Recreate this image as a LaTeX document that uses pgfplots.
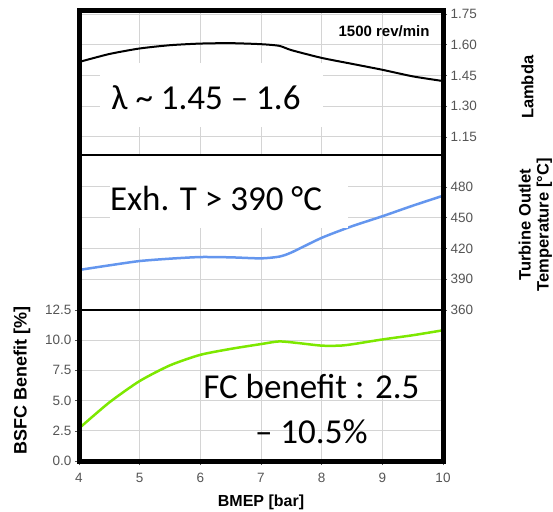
\documentclass[border=0pt]{standalone}
\usepackage{fontspec}
\setmainfont{Liberation Sans}
\newfontfamily\calibri{Carlito}
\usepackage{pgfplots}
\pgfplotsset{compat=1.18}
\definecolor{tickgray}{RGB}{85,85,85}
\definecolor{gridgray}{RGB}{212,212,212}
\definecolor{tblue}{RGB}{100,150,238}
\definecolor{lgreen}{RGB}{125,232,0}
\begin{document}
\begin{tikzpicture}
\pgfplotsset{
  panel/.style={
    scale only axis, width=364pt, xmin=4, xmax=10, xtick={4,...,10},
    axis line style={line width=1.5pt},
    grid=major,
    grid style={draw=gridgray, line width=1pt},
    tick label style={font=\fontsize{13.5}{14}\selectfont, text=tickgray},
    /pgf/number format/assume math mode=true,
    tick align=outside, tick style={color=tickgray, line width=0.6pt},
    major tick length=4pt, minor tick length=2.5pt,
    label style={font=\bfseries\fontsize{16.5}{18}\selectfont},
    clip=false,
  },
}
% bottom panel
\begin{axis}[panel, at={(79pt,50pt)}, anchor=south west, height=151pt,
  ymin=0, ymax=12.5, ytick={0,2.5,5,7.5,10,12.5},
  ytick pos=left, xtick pos=bottom, minor x tick num=1,
  yticklabel style={/pgf/number format/.cd, fixed, fixed zerofill, precision=1},
  xticklabel style={yshift=-5pt},
  xlabel={BMEP [bar]}, ylabel={BSFC Benefit [\%]},
  xlabel style={at={(axis description cs:0.5,-0.275)}, anchor=center, font=\bfseries\fontsize{16}{18}\selectfont},
  ylabel style={at={(axis description cs:-0.157,0.53)}, anchor=center, rotate=0, font=\bfseries\fontsize{18}{18}\selectfont},
]
\addplot[lgreen, line width=2.5pt, smooth, tension=0.4] coordinates {
 (4,2.70) (4.5,4.85) (5,6.62) (5.5,7.92) (6,8.79) (6.5,9.28) (7,9.68) (7.3,9.90)
 (7.6,9.77) (8,9.55) (8.3,9.55) (8.5,9.66) (9,10.06) (9.5,10.41) (10,10.82)};
\node[font=\calibri\fontsize{35}{45}\selectfont, align=center] at (axis cs:7.83,4.3) {FC benefit : 2.5\\ – 10.5\%};
\end{axis}
% middle panel
\begin{axis}[panel, at={(79pt,201pt)}, anchor=south west, height=155pt,
  ymin=360, ymax=511, ytick={360,390,420,450,480},
  ytick pos=right, yticklabel pos=right, xticklabels={}, xtick style={draw=none},
  ylabel={Turbine Outlet\\Temperature [°C]},
  ylabel style={at={(axis description cs:1.254,0.55)}, anchor=center, rotate=0, align=center},
]
\addplot[tblue, line width=2.5pt, smooth, tension=0.4] coordinates {
 (4,399.0) (4.5,403.5) (5,407.7) (5.5,410.0) (6,411.6) (6.5,411.3) (7,410.3) (7.3,412)
 (7.5,416) (8,430.3) (8.5,441.6) (9,451.3) (9.5,461.6) (10,471.3)};
\end{axis}
% top panel
\begin{axis}[panel, at={(79pt,356pt)}, anchor=south west, height=144pt,
  ymin=1.062, ymax=1.765, ytick={1.15,1.30,1.45,1.60,1.75},
  ytick pos=right, yticklabel pos=right, xticklabels={}, xtick style={draw=none},
  yticklabel style={/pgf/number format/.cd, fixed, fixed zerofill, precision=2},
  ylabel={Lambda},
  ylabel style={at={(axis description cs:1.232,0.47)}, anchor=center, rotate=0},
]
\addplot[black, line width=2pt, smooth, tension=0.4] coordinates {
 (4,1.516) (4.5,1.555) (5,1.582) (5.5,1.598) (6,1.606) (6.5,1.608) (7,1.603) (7.3,1.595)
 (7.5,1.574) (8,1.536) (8.5,1.507) (9,1.478) (9.5,1.446) (10,1.423)};
\end{axis}
% white boxes behind annotations
\node[fill=white, minimum width=223pt, minimum height=64pt, inner sep=0pt] at (211.5pt,416pt) {};
\node[font=\calibri\fontsize{35}{42}\selectfont] at (206pt,413pt) {λ \textasciitilde\ 1.45 – 1.6};
\node[fill=white, minimum width=238pt, minimum height=72pt, inner sep=0pt] at (229pt,319pt) {};
\node[font=\calibri\fontsize{35}{42}\selectfont] at (216pt,313pt) {Exh. T > 390 °C};
\node[font=\bfseries\fontsize{15}{16}\selectfont, anchor=east] at (433pt,480pt) {1500 rev/min};
% outer frame and separators
\draw[line width=1.5pt] (79pt,201pt) -- (443pt,201pt);
\draw[line width=1.5pt] (79pt,356pt) -- (443pt,356pt);
\draw[line width=5pt] (79pt,50pt) rectangle (443pt,500pt);
\pgfresetboundingbox
\useasboundingbox (0pt,0pt) rectangle (553pt,511pt);
\end{tikzpicture}
\end{document}
